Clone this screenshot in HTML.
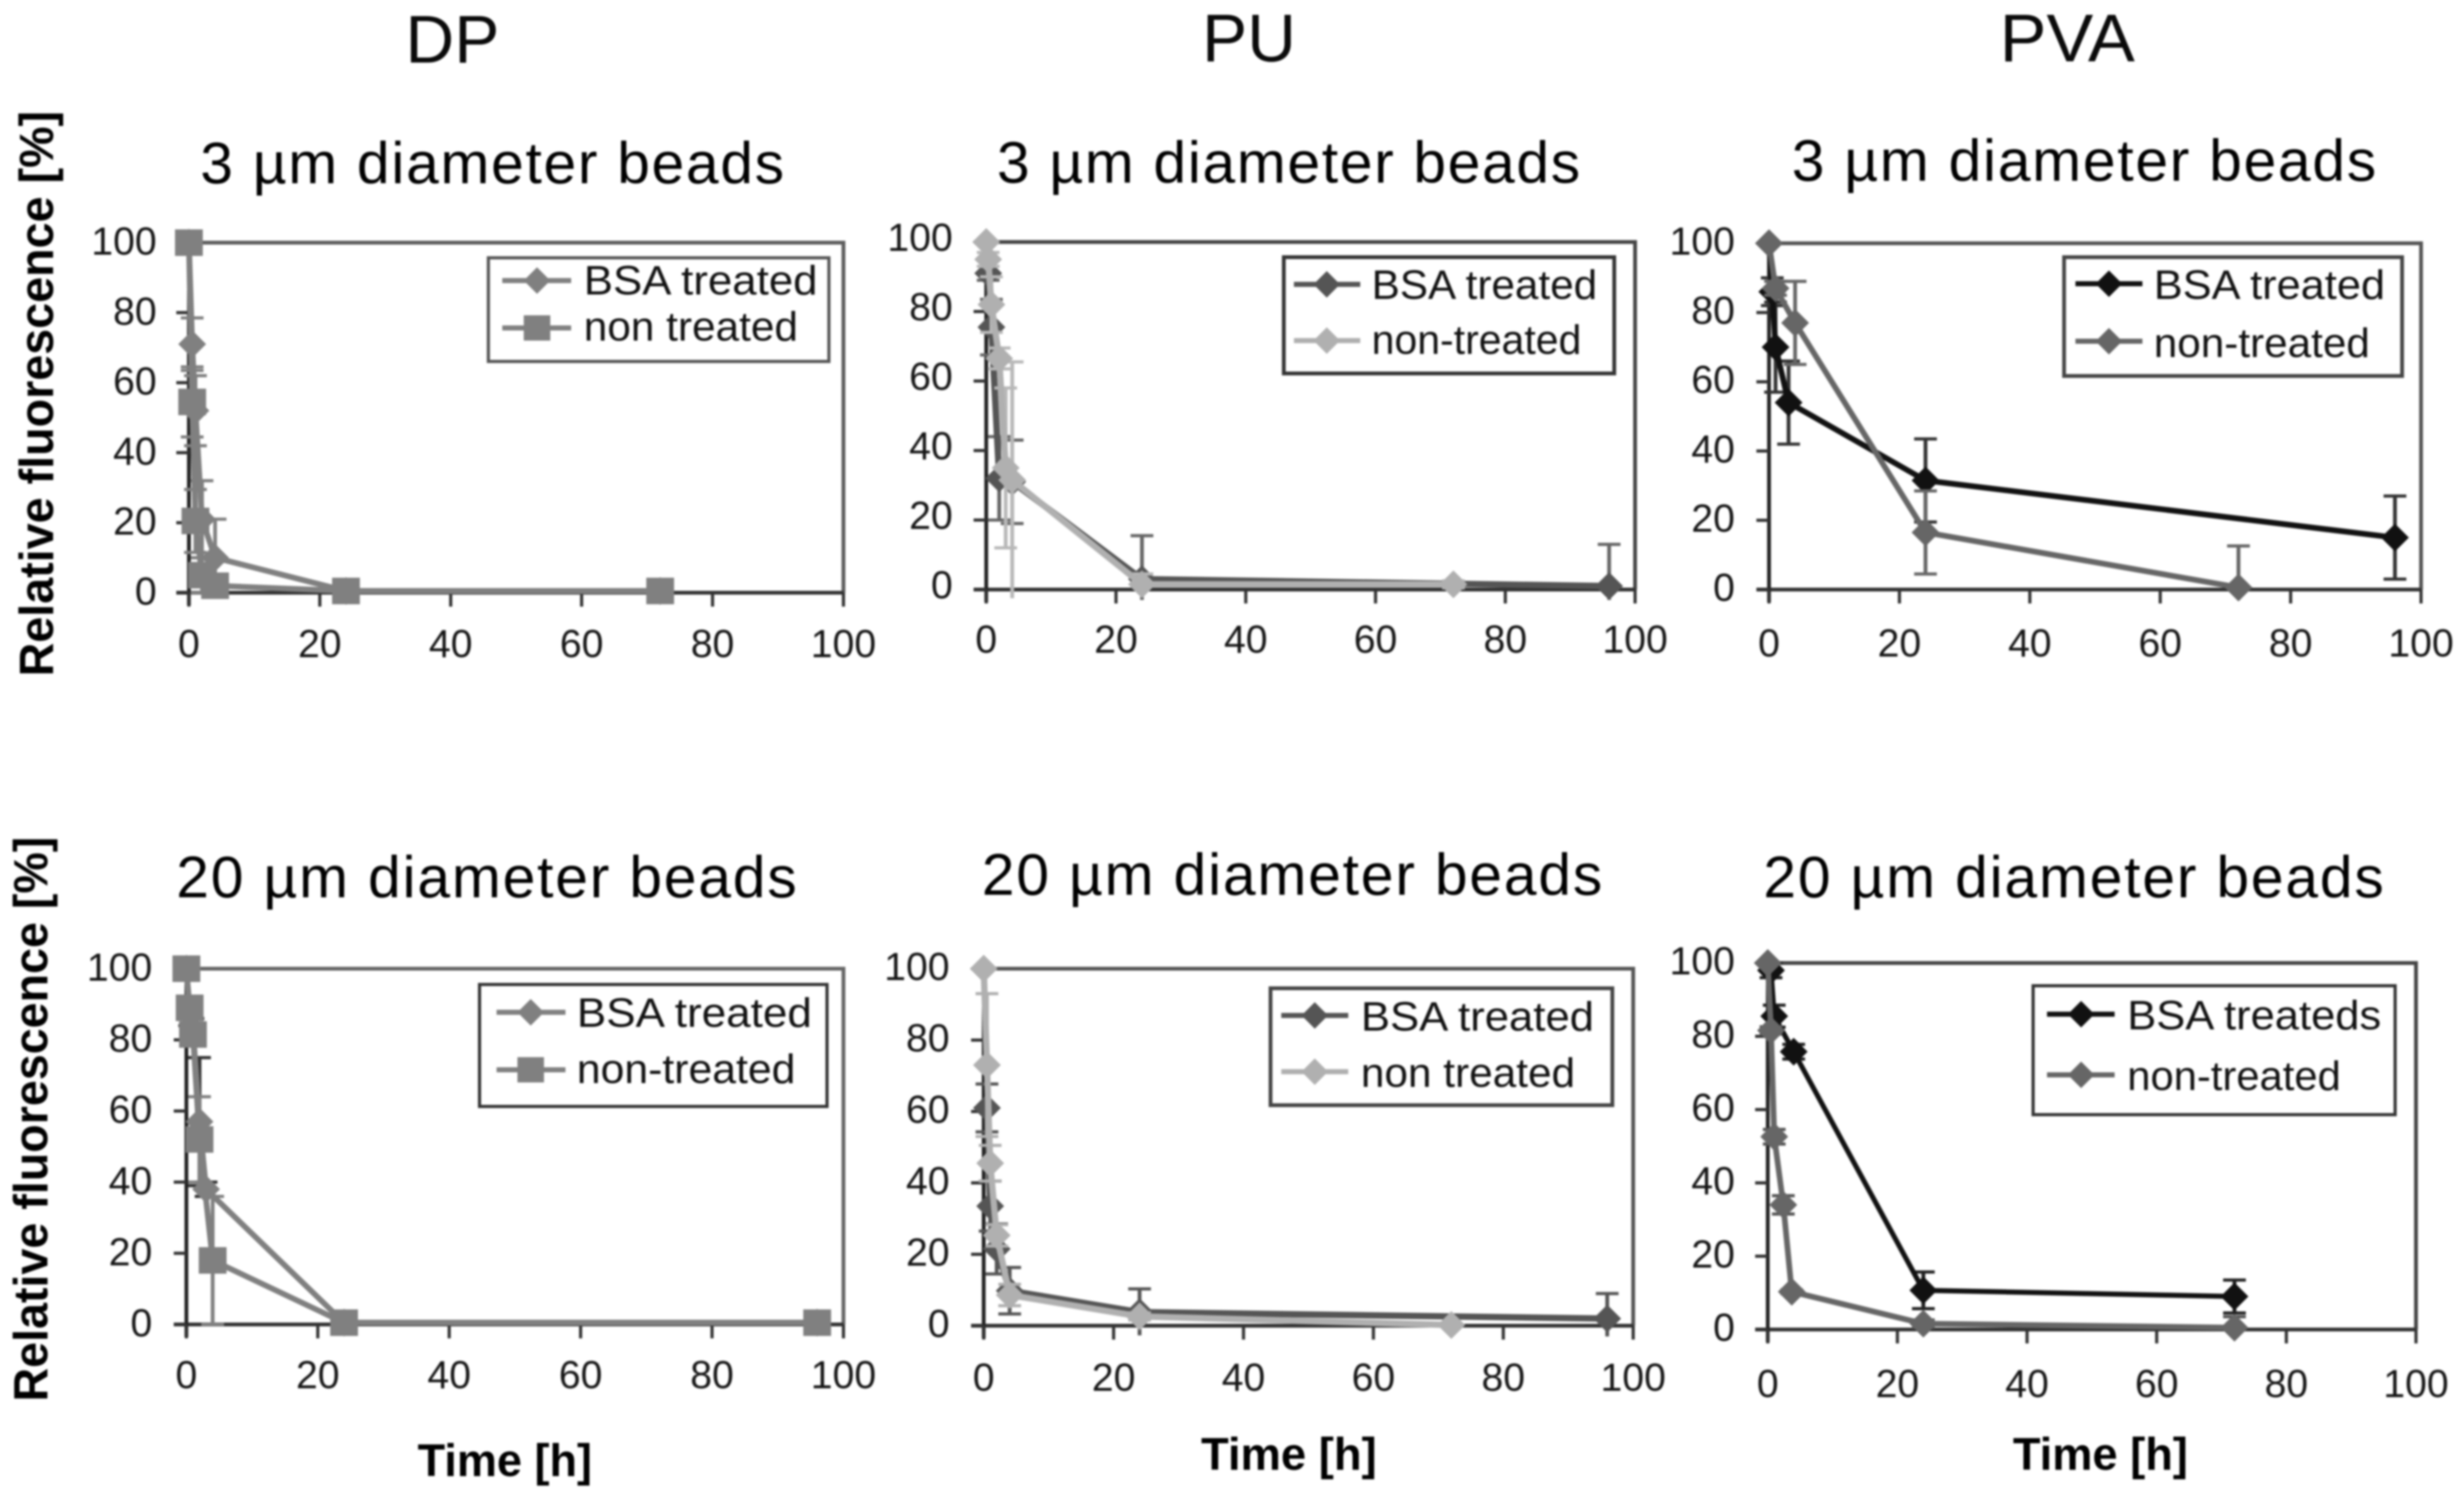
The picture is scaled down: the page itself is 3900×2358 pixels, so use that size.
<!DOCTYPE html>
<html lang="en">
<head>
<meta charset="utf-8">
<title>Relative fluorescence over time for beads on DP, PU and PVA</title>
<style>
html,body{margin:0;padding:0;background:#fff;width:3900px;height:2358px;overflow:hidden}
svg{display:block;filter:blur(1.6px);font-family:"Liberation Sans",Arial,sans-serif}
.col{font-size:107px;fill:#0a0a0a;text-anchor:middle}
.sub{font-size:93px;fill:#000}
.ytitle,.xtitle{font-weight:bold;fill:#000}
.ytitle{font-size:76px;text-anchor:middle}
.xtitle{font-size:72px}
.leg{font-size:65px;fill:#111}
.tick{font-size:62px;fill:#151515}
</style>
</head>
<body>
<svg id="figure" width="3900" height="2358" viewBox="0 0 3900 2358" xmlns="http://www.w3.org/2000/svg">
<rect width="3900" height="2358" fill="#fff"/>

<text class="col" x="716" y="99">DP</text>
<text class="col" x="1977" y="97">PU</text>
<text class="col" x="3272" y="97" textLength="214" lengthAdjust="spacingAndGlyphs">PVA</text>

<text class="ytitle" transform="translate(84,623) rotate(-90)" textLength="895" lengthAdjust="spacingAndGlyphs">Relative fluorescence [%]</text>
<text class="ytitle" transform="translate(75,1771) rotate(-90)" textLength="894" lengthAdjust="spacingAndGlyphs">Relative fluorescence [%]</text>

<text class="xtitle" x="661" y="2336" textLength="276" lengthAdjust="spacingAndGlyphs">Time [h]</text>
<text class="xtitle" x="1901" y="2326" textLength="278" lengthAdjust="spacingAndGlyphs">Time [h]</text>
<text class="xtitle" x="3186" y="2326" textLength="277" lengthAdjust="spacingAndGlyphs">Time [h]</text>

<!-- Panel: DP 3 um -->
<g>
  <text class="sub" x="317" y="290" textLength="924">3 µm diameter beads</text>
  <g id="axes-0"></g>
  <g id="s-dp3-bsa"></g>
  <g id="s-dp3-non"></g>
  <g>
    <rect x="773" y="408" width="539" height="164" fill="#fff" stroke="#555" stroke-width="5"/>
    <line x1="795" y1="444" x2="904" y2="444" stroke="#808080" stroke-width="8"/>
    <polygon points="850,423 871,444 850,465 829,444" fill="#808080"/>
    <text class="leg" x="924" y="466" textLength="370" lengthAdjust="spacingAndGlyphs">BSA treated</text>
    <line x1="795" y1="519" x2="904" y2="519" stroke="#808080" stroke-width="8"/>
    <rect x="829" y="499" width="42" height="40" fill="#808080"/>
    <text class="leg" x="924" y="539" textLength="339" lengthAdjust="spacingAndGlyphs">non treated</text>
  </g>
</g>

<!-- Panel: PU 3 um -->
<g>
  <text class="sub" x="1578" y="289" textLength="923">3 µm diameter beads</text>
  <g id="axes-1"></g>
  <g id="s-pu3-bsa"></g>
  <g id="s-pu3-non"></g>
  <g>
    <rect x="2032" y="407" width="523" height="184" fill="#fff" stroke="#333" stroke-width="6"/>
    <line x1="2048" y1="450" x2="2153" y2="450" stroke="#555" stroke-width="8"/>
    <polygon points="2100,429 2121,450 2100,471 2079,450" fill="#555"/>
    <text class="leg" x="2171" y="473" textLength="357" lengthAdjust="spacingAndGlyphs">BSA treated</text>
    <line x1="2048" y1="539" x2="2153" y2="539" stroke="#b0b0b0" stroke-width="8"/>
    <polygon points="2100,518 2121,539 2100,560 2079,539" fill="#b0b0b0"/>
    <text class="leg" x="2171" y="560" textLength="332" lengthAdjust="spacingAndGlyphs">non-treated</text>
  </g>
</g>

<!-- Panel: PVA 3 um -->
<g>
  <text class="sub" x="2836" y="286" textLength="925">3 µm diameter beads</text>
  <g id="axes-2"></g>
  <g id="s-pva3-bsa"></g>
  <g id="s-pva3-non"></g>
  <g>
    <rect x="3267" y="407" width="535" height="188" fill="#fff" stroke="#444" stroke-width="6"/>
    <line x1="3285" y1="449" x2="3391" y2="449" stroke="#111" stroke-width="8"/>
    <polygon points="3338,428 3359,449 3338,470 3317,449" fill="#111"/>
    <text class="leg" x="3409" y="473" textLength="366" lengthAdjust="spacingAndGlyphs">BSA treated</text>
    <line x1="3285" y1="540" x2="3391" y2="540" stroke="#666" stroke-width="8"/>
    <polygon points="3338,519 3359,540 3338,561 3317,540" fill="#666"/>
    <text class="leg" x="3409" y="565" textLength="342" lengthAdjust="spacingAndGlyphs">non-treated</text>
  </g>
</g>

<!-- Panel: DP 20 um -->
<g>
  <text class="sub" x="279" y="1420" textLength="982">20 µm diameter beads</text>
  <g id="axes-3"></g>
  <g id="s-dp20-bsa"></g>
  <g id="s-dp20-non"></g>
  <g>
    <rect x="759" y="1558" width="550" height="193" fill="#fff" stroke="#333" stroke-width="5"/>
    <line x1="786" y1="1602" x2="895" y2="1602" stroke="#808080" stroke-width="8"/>
    <polygon points="840,1581 861,1602 840,1623 819,1602" fill="#808080"/>
    <text class="leg" x="913" y="1625" textLength="372" lengthAdjust="spacingAndGlyphs">BSA treated</text>
    <line x1="786" y1="1693" x2="895" y2="1693" stroke="#808080" stroke-width="8"/>
    <rect x="819" y="1673" width="42" height="40" fill="#808080"/>
    <text class="leg" x="913" y="1714" textLength="346" lengthAdjust="spacingAndGlyphs">non-treated</text>
  </g>
</g>

<!-- Panel: PU 20 um -->
<g>
  <text class="sub" x="1554" y="1416" textLength="982">20 µm diameter beads</text>
  <g id="axes-4"></g>
  <g id="s-pu20-bsa"></g>
  <g id="s-pu20-non"></g>
  <g>
    <rect x="2011" y="1564" width="541" height="185" fill="#fff" stroke="#444" stroke-width="6"/>
    <line x1="2028" y1="1607" x2="2134" y2="1607" stroke="#555" stroke-width="8"/>
    <polygon points="2081,1586 2102,1607 2081,1628 2060,1607" fill="#555"/>
    <text class="leg" x="2154" y="1631" textLength="369" lengthAdjust="spacingAndGlyphs">BSA treated</text>
    <line x1="2028" y1="1696" x2="2134" y2="1696" stroke="#b0b0b0" stroke-width="8"/>
    <polygon points="2081,1675 2102,1696 2081,1717 2060,1696" fill="#b0b0b0"/>
    <text class="leg" x="2154" y="1720" textLength="339" lengthAdjust="spacingAndGlyphs">non treated</text>
  </g>
</g>

<!-- Panel: PVA 20 um -->
<g>
  <text class="sub" x="2791" y="1420" textLength="982">20 µm diameter beads</text>
  <g id="axes-5"></g>
  <g id="s-pva20-bsa"></g>
  <g id="s-pva20-non"></g>
  <g>
    <rect x="3218" y="1560" width="573" height="204" fill="#fff" stroke="#333" stroke-width="5"/>
    <line x1="3240" y1="1605" x2="3347" y2="1605" stroke="#111" stroke-width="8"/>
    <polygon points="3294,1584 3315,1605 3294,1626 3273,1605" fill="#111"/>
    <text class="leg" x="3367" y="1629" textLength="402" lengthAdjust="spacingAndGlyphs">BSA treateds</text>
    <line x1="3240" y1="1701" x2="3347" y2="1701" stroke="#666" stroke-width="8"/>
    <polygon points="3294,1680 3315,1701 3294,1722 3273,1701" fill="#666"/>
    <text class="leg" x="3367" y="1725" textLength="338" lengthAdjust="spacingAndGlyphs">non-treated</text>
  </g>
</g>
</svg>

<script>
// Axis tick labels
const xTickLabels = [0, 20, 40, 60, 80, 100];
const yTickLabels = [0, 20, 40, 60, 80, 100];

// DP, 3 um
const dp3BsaTime  = [0, 0.5, 1, 2, 4, 24, 72];
const dp3BsaValue = [100, 71, 52, 21, 10, 0.5, 0.5];
const dp3BsaError = [0, 7.5, 10, 11, 11, 0, 0];
const dp3NonTime  = [0, 0.5, 1, 2, 4, 24, 72];
const dp3NonValue = [100, 54.5, 20.5, 5, 2, 0.5, 0.5];
const dp3NonError = [0, 10, 9, 5, 2, 0, 0];

// PU, 3 um
const pu3BsaTime  = [0.3, 0.8, 2, 4, 24, 96];
const pu3BsaValue = [91, 75.5, 32, 31, 3, 1];
const pu3BsaError = [2, 8, 12, 12, 12.5, 12];
const pu3NonTime  = [0, 0.3, 0.8, 2, 3, 4, 24, 72];
const pu3NonValue = [100, 95, 82, 66.5, 35, 31.5, 1.5, 1.5];
const pu3NonError = [0, 2, 8, 3, 23, 34, 3, 1];

// PVA, 3 um
const pva3BsaTime  = [0, 0.5, 1, 3, 24, 96];
const pva3BsaValue = [100, 86, 70, 54, 31.5, 15];
const pva3BsaError = [0, 4, 13, 12, 12, 12];
const pva3NonTime  = [0, 1, 4, 24, 72];
const pva3NonValue = [100, 87, 77, 16.5, 0.6];
const pva3NonError = [0, 2, 12, 12, 12];

// DP, 20 um
const dp20BsaTime  = [0, 0.5, 1, 2, 3, 24, 96];
const dp20BsaValue = [100, 87, 83, 57, 38, 0.5, 0.5];
const dp20BsaError = [0, 3, 3, 18, 2, 0, 0];
const dp20NonTime  = [0, 0.5, 1, 2, 4, 24, 96];
const dp20NonValue = [100, 89, 81.5, 52, 18, 0.5, 0.5];
const dp20NonError = [0, 3, 3, 12, 18, 0, 0];

// PU, 20 um
const pu20BsaTime  = [0.5, 1, 2, 4, 24, 96];
const pu20BsaValue = [61, 33.5, 21.5, 9.8, 3.8, 2];
const pu20BsaError = [6.7, 7, 7, 6.5, 6.5, 7];
const pu20NonTime  = [0, 0.5, 1, 2, 4, 24, 72];
const pu20NonValue = [100, 73, 45.5, 25.3, 8.6, 2.6, 0.2];
const pu20NonError = [0, 20, 5, 3, 3, 1, 0];

// PVA, 20 um
const pva20BsaTime  = [0.5, 1, 4, 24, 72];
const pva20BsaValue = [98, 85.5, 75.8, 10.7, 9];
const pva20BsaError = [2, 3, 2, 5, 4.5];
const pva20NonTime  = [0, 0.5, 1, 2.4, 3.7, 24, 72];
const pva20NonValue = [100, 81.6, 52.6, 34, 10.3, 1.6, 0.5];
const pva20NonError = [0, 1, 2, 2.5, 0.5, 1, 3];

// Panel geometry (axis ranges on the page)
const panels = [
  {left:299,  right:1335, top:384,  bottom:938,  labelGap:51, xLabelDrop:102, yLabelDrop:19, frame:'#5c5c5c'},
  {left:1561, right:2588, top:383,  bottom:933,  labelGap:53, xLabelDrop:100, yLabelDrop:14, frame:'#444'},
  {left:2800, right:3832, top:385,  bottom:933,  labelGap:54, xLabelDrop:106, yLabelDrop:18, frame:'#555'},
  {left:295,  right:1335, top:1533, bottom:2096, labelGap:54, xLabelDrop:101, yLabelDrop:19, frame:'#666'},
  {left:1557, right:2585, top:1533, bottom:2098, labelGap:54, xLabelDrop:103, yLabelDrop:18, frame:'#555'},
  {left:2798, right:3824, top:1524, bottom:2104, labelGap:52, xLabelDrop:107, yLabelDrop:18, frame:'#444'}
];

const seriesList = [
  {g:'s-dp3-bsa',   panel:0, t:dp3BsaTime,   v:dp3BsaValue,   e:dp3BsaError,   color:'#808080', errColor:'#808080', marker:'diamond', lw:9},
  {g:'s-dp3-non',   panel:0, t:dp3NonTime,   v:dp3NonValue,   e:dp3NonError,   color:'#808080', errColor:'#808080', marker:'square',  lw:9},
  {g:'s-pu3-bsa',   panel:1, t:pu3BsaTime,   v:pu3BsaValue,   e:pu3BsaError,   color:'#555555', errColor:'#666666', marker:'diamond', lw:10},
  {g:'s-pu3-non',   panel:1, t:pu3NonTime,   v:pu3NonValue,   e:pu3NonError,   color:'#b0b0b0', errColor:'#b8b8b8', marker:'diamond', lw:10},
  {g:'s-pva3-bsa',  panel:2, t:pva3BsaTime,  v:pva3BsaValue,  e:pva3BsaError,  color:'#111111', errColor:'#333333', marker:'diamond', lw:9},
  {g:'s-pva3-non',  panel:2, t:pva3NonTime,  v:pva3NonValue,  e:pva3NonError,  color:'#666666', errColor:'#666666', marker:'diamond', lw:9},
  {g:'s-dp20-bsa',  panel:3, t:dp20BsaTime,  v:dp20BsaValue,  e:dp20BsaError,  color:'#808080', errColor:'#333333', marker:'diamond', lw:9},
  {g:'s-dp20-non',  panel:3, t:dp20NonTime,  v:dp20NonValue,  e:dp20NonError,  color:'#808080', errColor:'#808080', marker:'square',  lw:9},
  {g:'s-pu20-bsa',  panel:4, t:pu20BsaTime,  v:pu20BsaValue,  e:pu20BsaError,  color:'#555555', errColor:'#555555', marker:'diamond', lw:10},
  {g:'s-pu20-non',  panel:4, t:pu20NonTime,  v:pu20NonValue,  e:pu20NonError,  color:'#b0b0b0', errColor:'#b0b0b0', marker:'diamond', lw:10},
  {g:'s-pva20-bsa', panel:5, t:pva20BsaTime, v:pva20BsaValue, e:pva20BsaError, color:'#111111', errColor:'#222222', marker:'diamond', lw:8},
  {g:'s-pva20-non', panel:5, t:pva20NonTime, v:pva20NonValue, e:pva20NonError, color:'#666666', errColor:'#555555', marker:'diamond', lw:9}
];

const NS = 'http://www.w3.org/2000/svg';
function make(tag, attrs, parent) {
  const node = document.createElementNS(NS, tag);
  for (const k in attrs) node.setAttribute(k, attrs[k]);
  parent.appendChild(node);
  return node;
}
function xScale(p, val) { return p.left + (p.right - p.left) * val / 100; }
function yScale(p, val) { return p.bottom - (p.bottom - p.top) * val / 100; }

panels.forEach(function (p, i) {
  const g = document.getElementById('axes-' + i);

  const frame = make('path', {d:'M' + p.left + ' ' + p.top + 'H' + p.right + 'V' + p.bottom, fill:'none', stroke:p.frame, 'stroke-width':6}, g);
  
  

  const xAxis = make('line', {x1:p.left - 20, x2:p.right, y1:p.bottom, y2:p.bottom, stroke:'#333', 'stroke-width':6}, g);
  
  

  const yAxis = make('line', {x1:p.left, x2:p.left, y1:p.top, y2:p.bottom + 20, stroke:'#222', 'stroke-width':6}, g);
  
  

  xTickLabels.forEach(function (val) {
    const x = xScale(p, val);
    const tick = make('line', {x1:x, x2:x, y1:p.bottom, y2:p.bottom + 22, stroke:'#333', 'stroke-width':5}, g);
    
    
    const label = make('text', {x:x, y:p.bottom + p.xLabelDrop, 'text-anchor':'middle', 'class':'tick'}, g);
    
    
    label.textContent = val;
  });

  yTickLabels.forEach(function (val) {
    const y = yScale(p, val);
    const tick = make('line', {x1:p.left - 20, x2:p.left, y1:y, y2:y, stroke:'#333', 'stroke-width':5}, g);
    
    
    const label = make('text', {x:p.left - p.labelGap, y:y + p.yLabelDrop, 'text-anchor':'end', 'class':'tick'}, g);
    
    
    label.textContent = val;
  });
});

seriesList.forEach(function (s) {
  const p = panels[s.panel];
  const g = document.getElementById(s.g);

  s.t.forEach(function (time, i) {
    if (!s.e[i]) return;
    const x = xScale(p, time);
    const hi = s.v[i] + s.e[i];
    const lo = s.v[i] - s.e[i];
    const yHi = yScale(p, Math.min(hi, 100));
    const yLo = yScale(p, Math.max(lo, -3));
    const bar = make('line', {x1:x, x2:x, y1:yHi, y2:yLo, stroke:s.errColor, 'stroke-width':6}, g);
    
    
    if (hi <= 100) {
      const capHi = make('line', {x1:x - 18, x2:x + 18, y1:yHi, y2:yHi, stroke:s.errColor, 'stroke-width':5}, g);
      
      
    }
    if (lo >= 0) {
      const capLo = make('line', {x1:x - 18, x2:x + 18, y1:yLo, y2:yLo, stroke:s.errColor, 'stroke-width':5}, g);
      
      
    }
  });

  const pts = s.t.map(function (time, i) {
    return xScale(p, time) + ',' + yScale(p, s.v[i]);
  }).join(' ');
  const line = make('polyline', {points:pts, fill:'none', stroke:s.color, 'stroke-width':s.lw, 'stroke-linejoin':'round'}, g);
  
  

  s.t.forEach(function (time, i) {
    const x = xScale(p, time);
    const y = yScale(p, s.v[i]);
    let mark;
    if (s.marker === 'square') {
      mark = make('rect', {x:x - 22, y:y - 21, width:44, height:42, fill:s.color}, g);
    } else {
      const r = 22;
      mark = make('polygon', {points:x + ',' + (y - r) + ' ' + (x + r) + ',' + y + ' ' + x + ',' + (y + r) + ' ' + (x - r) + ',' + y, fill:s.color}, g);
    }
    
    
  });
});
</script>
</body>
</html>
